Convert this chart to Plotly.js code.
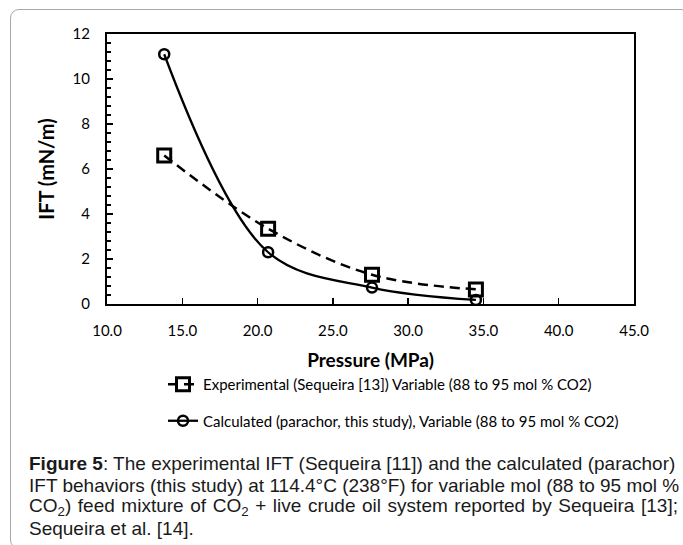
<!DOCTYPE html>
<html>
<head>
<meta charset="utf-8">
<script src="https://cdn.plot.ly/plotly-3.0.1.min.js"></script>
<style>
  html, body { margin: 0; padding: 0; background: #fff; overflow: hidden; }
  #wrap { position: relative; width: 683px; height: 545px; }
  #chart { position: absolute; left: 0; top: 0; width: 683px; height: 545px; }
  #frame { position: absolute; left: 10px; top: 9px; width: 680px; height: 540px;
           border: 1px solid #a8a8a8; border-radius: 9px; pointer-events: none; box-sizing: border-box; }
  #chart .annotation[data-index="2"] text { word-spacing: 1.3px; }
</style>
</head>
<body>
<div id="wrap">
  <div id="chart"></div>
  <div id="frame"></div>
</div>
<script>
// ---- data ----
const pressure = [13.8, 20.7, 27.6, 34.5];           // MPa
const iftExperimental = [6.6, 3.35, 1.3, 0.65];       // mN/m
const iftCalculated = [11.1, 2.3, 0.73, 0.18];        // mN/m
const seriesNames = [
  "Experimental (Sequeira [13]) Variable (88 to 95 mol % CO2)",
  "Calculated (parachor, this study), Variable (88 to 95 mol % CO2)"
];
const xTickVals = [10, 15, 20, 25, 30, 35, 40, 45];
const xTickText = ["10.0", "15.0", "20.0", "25.0", "30.0", "35.0", "40.0", "45.0"];
const yTickVals = [0, 2, 4, 6, 8, 10, 12];
const captionLines = [
  "<b>Figure 5</b>: The experimental IFT (Sequeira [11]) and the calculated (parachor)",
  "IFT behaviors (this study) at 114.4°C (238°F) for variable mol (88 to 95 mol %",
  "CO<sub>2</sub>) feed mixture of CO<sub>2</sub> + live crude oil system reported by Sequeira [13];",
  "Sequeira et al. [14]."
];

const traces = [
  {
    x: pressure, y: iftExperimental, name: seriesNames[0], type: "scatter", mode: "lines+markers",
    legendgroup: "a",
    line: { color: "#000", width: 2.5, dash: "10px,6px", shape: "spline", smoothing: 1 },
    marker: { symbol: "square-open", size: 13, color: "#000", line: { width: 3, color: "#000" } }
  },
  {
    x: pressure, y: iftCalculated, name: seriesNames[1], type: "scatter", mode: "lines+markers",
    legendgroup: "b",
    line: { color: "#000", width: 2.3, shape: "spline", smoothing: 1 },
    marker: { symbol: "circle-open", size: 10, color: "#000", line: { width: 2.5, color: "#000" } }
  }
];

const plotL = 107, plotR = 634, plotT = 34, plotB = 304;
const W = 683, H = 545;
const px2x = p => (p - plotL) / (plotR - plotL);
const px2y = p => (plotB - p) / (plotB - plotT);

const captionY = [463, 485, 507, 528];
const annotations = captionLines.map((t, i) => ({
  text: t, xref: "paper", yref: "paper", x: px2x(27), y: px2y(captionY[i]),
  xanchor: "left", yanchor: "middle", showarrow: false, align: "left",
  font: { family: "Liberation Sans, Arial, sans-serif", size: 19, color: "#1a1a1a" }
}));

const tickFont = { family: "Lato, sans-serif", size: 15, color: "#000" };

const layout = {
  width: W, height: H,
  margin: { l: plotL, r: W - plotR, t: plotT, b: H - plotB, pad: 0 },
  paper_bgcolor: "#fff", plot_bgcolor: "#fff",
  showlegend: true,
  legend: {
    x: px2x(163), y: px2y(368), xanchor: "left", yanchor: "top",
    font: { family: "Lato, sans-serif", size: 15, color: "#000" },
    traceorder: "grouped", tracegroupgap: 14, bgcolor: "rgba(0,0,0,0)"
  },
  xaxis: {
    range: [10, 45], tickvals: xTickVals, ticktext: xTickText,
    ticks: "inside", ticklen: 6, tickwidth: 1.5, tickcolor: "#000",
    showline: true, linecolor: "#000", linewidth: 2, mirror: true,
    showgrid: false, zeroline: false, tickfont: tickFont, ticklabelstandoff: 12,
    title: { text: "<b>Pressure (MPa)</b>", font: { family: "Lato, sans-serif", size: 19, color: "#000" }, standoff: 16 }
  },
  yaxis: {
    range: [0, 12], tickvals: yTickVals,
    ticks: "inside", ticklen: 6, tickwidth: 1.5, tickcolor: "#000",
    minor: { dtick: 0.4, ticks: "inside", ticklen: 4, tickwidth: 1.2, tickcolor: "#000", showgrid: false },
    showline: true, linecolor: "#000", linewidth: 2, mirror: true,
    showgrid: false, zeroline: false, tickfont: tickFont, ticklabelstandoff: 12,
    title: { text: "<b>IFT (mN/m)</b>", font: { family: "Lato, sans-serif", size: 20, color: "#000" }, standoff: 13 }
  },
  annotations: annotations
};

Plotly.newPlot("chart", traces, layout, { displayModeBar: false, staticPlot: true });
</script>
</body>
</html>
